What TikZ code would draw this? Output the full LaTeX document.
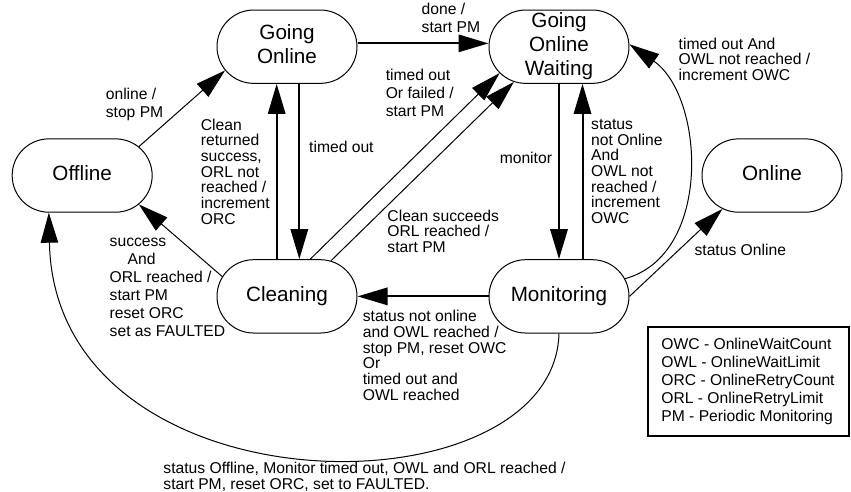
\documentclass[tikz,border=0pt]{standalone}
\usepackage{fontspec}
\setmainfont{Liberation Sans}
\usepackage{tikz}
\usetikzlibrary{shapes.misc,arrows.meta}
\usetikzlibrary{positioning}
\tikzset{>={Triangle[length=18pt,width=10.4pt]}, node distance=1cm, font=\fontsize{9.4}{10.8}\selectfont}
\tikzstyle{state} = [draw, rounded rectangle, line width=0.6pt, minimum width=84pt, minimum height=44pt, inner sep=0pt, font=\fontsize{12.4}{14.6}\selectfont]
\tikzstyle{cond} = [inner sep=1pt, align=left, font=\fontsize{9.4}{10.8}\selectfont]
\tikzstyle{tight} = [font=\fontsize{9.4}{9.4}\selectfont]
\tikzstyle{legend} = [draw, line width=1.2pt, minimum width=120.6pt, minimum height=65.4pt, align=left, font=\fontsize{9.4}{10.75}\selectfont]
\tikzstyle{main} = [->, line width=1.2pt]
\tikzstyle{side} = [->, line width=0.6pt]
\newcommand{\stlines}[1]{\makebox[0pt]{\begin{tabular}{@{}c@{}}#1\end{tabular}}}

\begin{document}
\begin{tikzpicture}[x=0.6pt, y=-0.6pt, on grid]
    \useasboundingbox (0,0) rectangle (851,492);
    \node [state] (goonline) at (287,46.7) {\stlines{Going\\Online}};
    \node [state, right=163.2pt of goonline] (gowaiting) {\stlines{Going\\Online\\Waiting}};
    \node [state, below=149.8pt of goonline] (cleaning) {\stlines{Cleaning}};
    \node [state, right=163.2pt of cleaning] (monitoring) {\stlines{Monitoring}};
    \node [state, below left=77.3pt and 122.9pt of goonline] (offline) {\stlines{Offline}};
    \node [state, below right=77.3pt and 127.8pt of gowaiting] (online) {\stlines{Online}};
    \node [legend, below right=51.1pt and 113.4pt of monitoring] (legend) {OWC - OnlineWaitCount\\OWL - OnlineWaitLimit\\ORC - OnlineRetryCount\\ORL - OnlineRetryLimit\\PM - Periodic Monitoring};

    \draw [side] (offline.27) -- node [cond, pos=0.55, left=12.5pt] {online /\\stop PM} (goonline.201.3);
    \draw [main] ([yshift=2pt]goonline.east) -- node [cond, pos=0.713, above=4.6pt] {done /\\start PM} ([yshift=2pt]gowaiting.west);
    \draw [main] ([xshift=7.4pt]goonline.south) -- node [cond, pos=0.362, right=4.3pt] {timed out} ([xshift=7.4pt]cleaning.north);
    \draw [main] ([xshift=-6.2pt]cleaning.north) -- node [cond, tight, midway, left=2.6pt] {Clean\\returned\\success,\\ORL not\\reached /\\increment\\ORC} ([xshift=-6.2pt]goonline.south);
    \draw [side] (cleaning.58.8) -- node [cond, pos=0.756, anchor=south east, xshift=1.5pt] {timed out\\Or failed /\\start PM} (gowaiting.204.7);
    \draw [side] (cleaning.39.4) -- node [cond, tight, pos=0.297, anchor=north west] {Clean succeeds\\ORL reached /\\start PM} (gowaiting.218);
    \draw [main] (gowaiting.south) -- node [cond, pos=0.42, left=2.6pt] {monitor} (monitoring.north);
    \draw [main] ([xshift=14.1pt]monitoring.north) -- node [cond, tight, midway, right=3.6pt] {status\\not Online\\And\\OWL not\\reached /\\increment\\OWC} ([xshift=14.1pt]gowaiting.south);
    \draw [side] (monitoring.15) .. controls +(88,-24) and +(75,52) .. node [cond, tight, pos=0.9, right=16pt, yshift=2.2pt] {timed out And\\OWL not reached /\\increment OWC} (gowaiting.2);
    \draw [side] (monitoring.east) -- node [cond, pos=0.53, right=8.2pt] {status Online} (online.214.7);
    \draw [main] (monitoring.west) -- node [cond, tight, at end, below right=6.8pt and 1.6pt] {status not online\\and OWL reached /\\stop PM, reset OWC\\Or\\timed out and\\OWL reached} (cleaning.east);
    \draw [side] (cleaning.163.7) -- node [cond, at start, anchor=north east, xshift=3.1pt, yshift=24.4pt] {success\\\hspace*{10.8pt}And\\ORL reached /\\start PM\\reset ORC\\set as FAULTED} (offline.333.4);
    \draw [side] (monitoring.south) .. controls +(-5,184) and +(6,304) .. node [cond, tight, pos=0.5, anchor=north west, xshift=-85.8pt, yshift=-2.3pt] {status Offline, Monitor timed out, OWL and ORL reached /\\start PM, reset ORC, set to FAULTED.} ([xshift=-20pt]offline.south);
\end{tikzpicture}
\end{document}
